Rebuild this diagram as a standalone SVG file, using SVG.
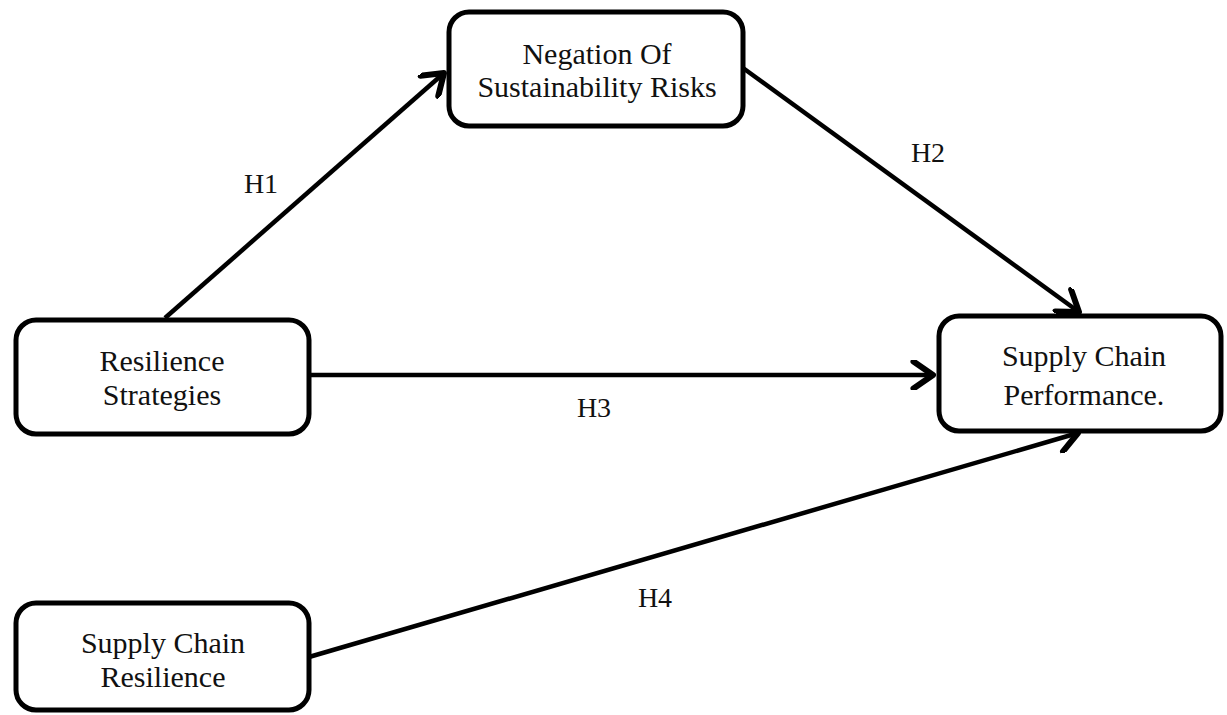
<svg xmlns="http://www.w3.org/2000/svg" width="1227" height="715" viewBox="0 0 1227 715">
<style>
.box{fill:#fff;stroke:#000;stroke-width:5}
.t{font-family:"Liberation Serif","Times New Roman",serif;font-size:30px;fill:#111;text-anchor:middle}
.lbl{font-family:"Liberation Serif","Times New Roman",serif;font-size:28px;fill:#111;text-anchor:middle}
.c{stroke:#000;stroke-width:4.5;fill:none;marker-end:url(#ah)}
</style>
<defs>
<marker id="ah" markerUnits="userSpaceOnUse" markerWidth="30" markerHeight="30" refX="16" refY="10" orient="auto" viewBox="0 0 20 20">
<path d="M3,1 L16,10 L3,19" fill="none" stroke="#000" stroke-width="4" stroke-linecap="round" stroke-linejoin="round"/>
</marker>
</defs>
<rect width="1227" height="715" fill="#fff"/>
<g id="connectors">
<path class="c" d="M165,318 L444,73"/>
<path class="c" d="M743,68 L1079,312"/>
<path class="c" d="M309,375 L933,375"/>
<path class="c" d="M309,657 L1078,433"/>
<text class="lbl" x="261" y="193">H1</text>
<text class="lbl" x="928" y="162">H2</text>
<text class="lbl" x="594" y="417">H3</text>
<text class="lbl" x="655" y="607">H4</text>
</g>
<g id="node-negation">
<rect class="box" x="449" y="12" width="294" height="114" rx="20"/>
<text class="t" x="597" y="64">Negation Of</text>
<text class="t" x="597" y="97">Sustainability Risks</text>
</g>
<g id="node-performance">
<rect class="box" x="939" y="316" width="282" height="115" rx="20"/>
<text class="t" x="1084" y="366">Supply Chain</text>
<text class="t" x="1084" y="405">Performance.</text>
</g>
<g id="node-strategies">
<rect class="box" x="16" y="320" width="293" height="114" rx="20"/>
<text class="t" x="162" y="371">Resilience</text>
<text class="t" x="162" y="405">Strategies</text>
</g>
<g id="node-scr">
<rect class="box" x="16" y="603" width="293" height="107" rx="20"/>
<text class="t" x="163" y="653">Supply Chain</text>
<text class="t" x="163" y="687">Resilience</text>
</g>
</svg>
